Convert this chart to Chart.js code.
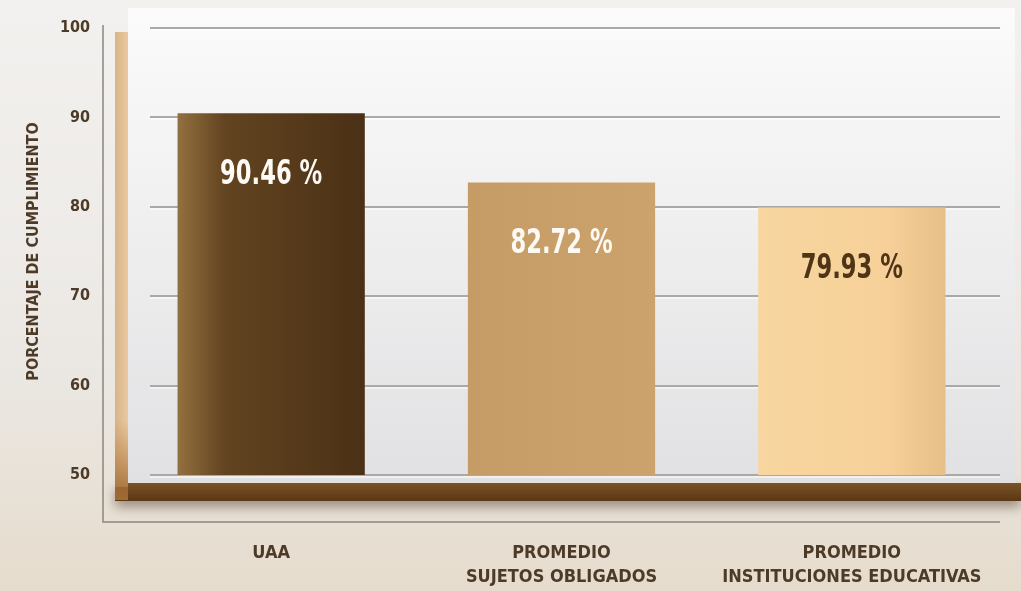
<!DOCTYPE html>
<html>
<head>
<meta charset="utf-8">
<script src="https://cdn.jsdelivr.net/npm/chart.js@4/dist/chart.umd.min.js"></script>
<style>
  html, body { margin: 0; padding: 0; }
  #wrap { width: 1021px; height: 591px; position: relative; }
</style>
</head>
<body>
<div id="wrap"><canvas id="chart"></canvas></div>
<script>
const categories = ["UAA", ["PROMEDIO", "SUJETOS OBLIGADOS"], ["PROMEDIO", "INSTITUCIONES EDUCATIVAS"]]
const values = [90.46, 82.72, 79.93]
const valueLabels = ["90.46 %", "82.72 %", "79.93 %"]
const yTicks = [50, 60, 70, 80, 90, 100]

const FONT = "'Liberation Sans Narrow', 'DejaVu Sans Condensed', sans-serif"
const brownText = '#4d3b28'
const BAR_PCT = 0.645

// bar fills: horizontal gradient over each bar, position taken from the x scale
const barFill = (ctx) => {
  const chart = ctx.chart
  const xs = chart.scales.x
  if (!xs || !chart.chartArea) return '#6b4a25'
  const i = ctx.dataIndex
  const cx = xs.getPixelForValue(i)
  const w = (chart.chartArea.right - chart.chartArea.left) / values.length * BAR_PCT
  const g = chart.ctx.createLinearGradient(cx - w / 2, 0, cx + w / 2, 0)
  if (i === 0) {
    g.addColorStop(0, '#93703f')
    g.addColorStop(0.25, '#624420')
    g.addColorStop(1, '#4a3015')
  } else if (i === 1) {
    g.addColorStop(0, '#c69c66')
    g.addColorStop(1, '#cca36d')
  } else {
    g.addColorStop(0, '#f8d6a0')
    g.addColorStop(0.7, '#f6d098')
    g.addColorStop(1, '#e6be87')
  }
  return g
}

const decor = {
  id: 'decor',
  beforeDraw(chart) {
    const c = chart.ctx
    const W = chart.width, H = chart.height
    c.save()
    // page background
    let g = c.createLinearGradient(0, 0, 0, H)
    g.addColorStop(0, '#f3f1ef')
    g.addColorStop(0.6, '#ebe8e4')
    g.addColorStop(1, '#e6dccd')
    c.fillStyle = g
    c.fillRect(0, 0, W, H)

    // L-shaped axis
    c.strokeStyle = '#8a8580'
    c.lineWidth = 1.5
    c.beginPath()
    c.moveTo(103, 25)
    c.lineTo(103, 522)
    c.lineTo(1000, 522)
    c.stroke()

    // brown frame (left strip + bottom band)
    c.shadowColor = 'rgba(60,40,20,0.45)'
    c.shadowBlur = 12
    c.shadowOffsetY = 6
    g = c.createLinearGradient(0, 483, 0, 501)
    g.addColorStop(0, '#7a5326')
    g.addColorStop(1, '#5a3815')
    c.fillStyle = g
    c.fillRect(115, 483, W - 115, 18)
    c.shadowColor = 'transparent'
    g = c.createLinearGradient(115, 0, 128, 0)
    g.addColorStop(0, '#d9b488')
    g.addColorStop(1, '#e9c9a0')
    c.fillStyle = g
    c.fillRect(115, 32, 13, 455)
    g = c.createLinearGradient(0, 420, 0, 500)
    g.addColorStop(0, 'rgba(180,120,60,0)')
    g.addColorStop(1, '#a06a33')
    c.fillStyle = g
    c.fillRect(115, 420, 13, 80)

    // light panel
    g = c.createLinearGradient(0, 8, 0, 483)
    g.addColorStop(0, '#fbfbfb')
    g.addColorStop(1, '#e1e1e3')
    c.fillStyle = g
    c.fillRect(128, 8, W - 128 - 6, 475)
    c.restore()
  },
  beforeDatasetsDraw(chart) {
    const c = chart.ctx
    const y = chart.scales.y
    c.save()
    yTicks.forEach(v => {
      const py = Math.round(y.getPixelForValue(v))
      c.strokeStyle = '#ffffff'
      c.lineWidth = 1
      c.beginPath(); c.moveTo(150, py + 2); c.lineTo(1000, py + 2); c.stroke()
      c.strokeStyle = '#a9a9a9'
      c.lineWidth = 2
      c.beginPath(); c.moveTo(150, py); c.lineTo(1000, py); c.stroke()
    })
    c.restore()
  },
  afterDatasetsDraw(chart) {
    const c = chart.ctx
    const meta = chart.getDatasetMeta(0)
    meta.data.forEach((bar, i) => {
      c.save()
      c.translate(bar.x, bar.y + 62)
      c.scale(0.74, 1)
      c.font = `bold 34px ${FONT}`
      c.textAlign = 'center'
      c.textBaseline = 'middle'
      c.fillStyle = i === 2 ? '#4f3418' : '#fdfaf5'
      c.fillText(valueLabels[i], 0, 0)
      c.restore()
    })
  }
}

new Chart(document.getElementById('chart'), {
  type: 'bar',
  data: {
    labels: categories,
    datasets: [{
      data: values,
      backgroundColor: barFill,
      borderWidth: 0,
      categoryPercentage: 1,
      barPercentage: BAR_PCT
    }]
  },
  options: {
    responsive: true,
    maintainAspectRatio: false,
    animation: false,
    events: [],
    layout: { padding: { left: 0, right: 24, top: 28, bottom: 0 } },
    plugins: { legend: { display: false }, tooltip: { enabled: false } },
    scales: {
      x: {
        grid: { display: false, drawTicks: false },
        border: { display: false },
        afterFit(s) { s.height = 116; s.paddingLeft = 0; s.paddingRight = 0 },
        ticks: {
          padding: 67,
          maxRotation: 0,
          color: brownText,
          font: { family: FONT, size: 18, weight: 'bold', lineHeight: 1.3 }
        }
      },
      y: {
        min: 50,
        max: 100,
        grid: { display: false, drawTicks: false },
        border: { display: false },
        afterFit(s) { s.width = 126; s.paddingTop = 0; s.paddingBottom = 0 },
        afterBuildTicks(s) { s.ticks = yTicks.map(v => ({ value: v })) },
        ticks: {
          padding: 36,
          color: brownText,
          font: { family: FONT, size: 16, weight: 'bold' }
        },
        title: {
          display: true,
          text: 'PORCENTAJE DE CUMPLIMIENTO',
          color: brownText,
          padding: { top: 24, bottom: 0 },
          font: { family: FONT, size: 16, weight: 'bold' }
        }
      }
    }
  },
  plugins: [decor]
})
</script>
</body>
</html>
